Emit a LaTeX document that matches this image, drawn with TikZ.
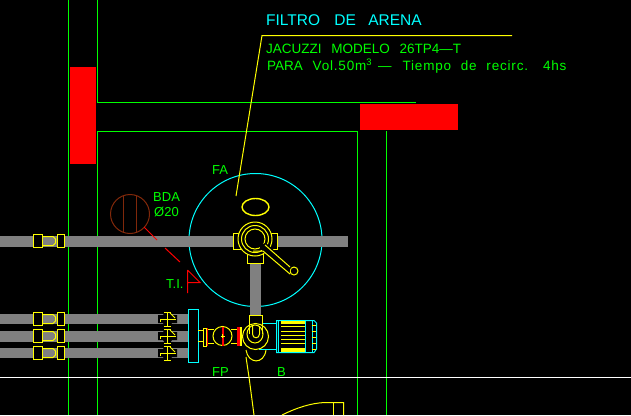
\documentclass[tikz,border=0pt]{standalone}
\usepackage{fontspec}
\setmainfont{Liberation Sans}
\usetikzlibrary{positioning,calc,shapes.geometric}
\definecolor{cadGreen}{RGB}{0,255,0}
\definecolor{cadCyan}{RGB}{0,255,255}
\definecolor{cadYellow}{RGB}{255,255,0}
\definecolor{cadPipe}{RGB}{128,128,128}
\definecolor{cadBrown}{RGB}{128,40,10}
\tikzset{%
  wall/.style     = {draw=cadGreen, line width=1pt},
  pipe/.style     = {draw=none, fill=cadPipe},
  mass/.style     = {draw=none, fill=red},
  part/.style     = {draw=cadYellow, line width=1pt},
  partfill/.style = {draw=cadYellow, line width=1pt, fill=black},
  cyanpart/.style = {draw=cadCyan, line width=1pt},
  ring/.style     = {draw=cadYellow, circle, line width=1pt, inner sep=0pt},
  tag/.style      = {text=cadGreen, font=\fontsize{13}{13}\selectfont, inner sep=0pt, anchor=west}
}
\newcommand{\spaced}[1]{{\addfontfeature{LetterSpace=6}#1}}
% one union on a pipe, centred on its y
\newcommand{\union}[1]{%
  \draw[partfill] (33.5,#1-6.5) rectangle (42.5,#1+6.5);
  \draw[part] (42.5,#1-4.5) -- (53,#1-4.5) -- (55.5,#1-2) -- (55.5,#1+2) -- (53,#1+4.5) -- (42.5,#1+4.5);
  \draw[partfill] (57.5,#1-6.5) rectangle (64.5,#1+6.5);
}
% one small valve on a pipe
\newcommand{\valve}[1]{%
  \fill[black] (158,#1-4) -- (163,#1-4) -- (165,#1-7) -- (170,#1-7) -- (172,#1-4) -- (177,#1-4) -- (177,#1+4) -- (172,#1+4) -- (170,#1+7) -- (165,#1+7) -- (163,#1+4) -- (158,#1+4) -- cycle;
  \draw[part] (160.5,#1+3) -- (160.5,#1) -- (176,#1) (167.5,#1-6.5) -- (167.5,#1+7) (164,#1-6.5) -- (170.5,#1-6.5) (164,#1+7) -- (170.5,#1+7);
  \draw[part] (170,#1-6) -- (175,#1-1);
}
\begin{document}
\begin{tikzpicture}[x=1pt, y=-1pt]
\useasboundingbox[fill=black] (0,0) rectangle (631,415);

% Definition of walls:
\draw[wall] (68.5,0) -- (68.5,415);
\draw[wall] (97.5,0) -- (97.5,102.5) -- (416,102.5);
\draw[wall] (97.5,415) -- (97.5,131.5) -- (357.5,131.5) -- (357.5,415);
\draw[wall] (386.5,131) -- (386.5,415);
\draw[white, line width=1pt] (0,377.5) -- (631,377.5);
\fill[mass] (70,67) rectangle (96,164);
\fill[mass] (360,104) rectangle (458,130);

% Filter:
\node[draw=cadCyan, circle, line width=1pt, minimum size=133pt, inner sep=0pt] (Filter) at (255.5,240) {};

% Pipes:
\fill[pipe] (0,236) rectangle (348,247);
\fill[pipe] (0,314) rectangle (189,324);
\fill[pipe] (0,331) rectangle (189,342);
\fill[pipe] (0,348) rectangle (189,358);
\fill[pipe] (250,260) rectangle (261,316);

% Filter valve:
\node[draw=cadYellow, ellipse, line width=1.4pt, minimum width=27pt, minimum height=17pt, inner sep=0pt] (Lid) at (255.5,207) {};
\draw[partfill] (233.5,233.5) rectangle (277.5,249.5);
\draw[partfill] (247.5,250) rectangle (263.5,263.5);
\node[ring, fill=black, minimum size=34pt] (ValveA) at (255,239) {};
\node[ring, minimum size=27pt] (ValveB) at (255,239) {};
\node[ring, minimum size=20pt] (ValveC) at (255,239) {};
\node[ring, fill=black, minimum size=8pt] (Knob) at (294,271) {};
\fill[black] (258,245) -- (266,243) -- (291,266) -- (289,274) -- (264,253) -- cycle;
\draw[part] (265,245) -- (290,267);
\draw[part] (253,251) -- (263,251) -- (290,274);

% Pump and motor:
\draw[cyanpart] (262,323.5) -- (276,323.5) (259,349.5) -- (276,349.5);
\draw[cyanpart, fill=black] (276.5,320.5) -- (314,320.5) -- (316.5,323) -- (316.5,349) -- (314,352.5) -- (276.5,352.5) -- cycle;
\draw[cyanpart] (278.5,320) -- (278.5,352);
\fill[cadYellow] (281,321) rectangle (305,323.5);
\fill[cadYellow] (281,348) rectangle (305,352);
\foreach \ypos in {326.5,331.5,335.5,339.5,343.5} \draw[part] (281,\ypos) -- (305,\ypos);
\draw[cyanpart] (305.5,320) -- (305.5,352);
\draw[cyanpart] (312.5,320) -- (312.5,352);
\foreach \ypos in {325.5,331.5,337.5,343.5,349.5} \draw[part] (312,\ypos) -- (316,\ypos);
\draw[part] (246,350) .. controls (248,364) and (264,365) .. (266,350);
\node[ring, fill=black, minimum size=26pt] (Pump) at (255.5,336.5) {};
\draw[part] (249.5,334) -- (249.5,315.5) -- (262.5,315.5) -- (262.5,334);
\node[draw=cadYellow, ellipse, line width=1pt, minimum width=16pt, minimum height=18pt, inner sep=0pt] (PumpIn) at (255,334) {};
\draw[part] (252.5,326) -- (252.5,334) .. controls (252.5,339) and (259.5,339) .. (259.5,334) -- (259.5,326);

% Strainer:
\draw[cyanpart, fill=black] (188.5,309.5) rectangle (198.5,362.5);
\draw[part] (198,330.5) -- (204,330.5) (198,341.5) -- (204,341.5);
\draw[partfill] (203.5,328.5) rectangle (206.5,346.5);
\draw[red, line width=1pt] (207.5,328) -- (207.5,346);
\draw[part] (208,329.5) -- (238,329.5) (208,343.5) -- (238,343.5);
\fill[black] (214,328) rectangle (231,344);
\node[ring, minimum size=19pt] (Check) at (222.5,336) {};
\fill[red] (221.5,327) rectangle (224,346);
\draw[cadYellow, line width=0.7pt] (220.5,336) -- (224.5,336) (222.5,334) -- (222.5,338);
\fill[red] (237,327) rectangle (240,346);
\fill[cadYellow] (240,327) rectangle (242,346);

% Unions and valves:
\union{241}
\union{319}
\union{336}
\union{353}
\valve{319}
\valve{336}
\valve{353}

% Marker:
\node[draw=cadBrown, circle, line width=1pt, minimum size=39pt, inner sep=0pt] (Marker) at (130,214) {};
\draw[cadBrown, line width=1pt] (123.5,196) -- (123.5,232) (136.5,196) -- (136.5,232);
\coordinate (MarkerA) at (157,240);
\coordinate (MarkerB) at (165,248);
\coordinate (MarkerC) at (180,262);
\draw[red, line width=1pt] (144,227) -- (MarkerA) (MarkerB) -- (MarkerC);
\draw[red, line width=1pt] (187.5,270) -- (187.5,293) (187.5,282.5) -- (200,282.5) -- (187.5,270);

% Leaders:
\coordinate (LeaderTop) at (262,35.5);
\coordinate (LeaderEnd) at (512,35.5);
\coordinate (LeaderLow) at (236,196);
\draw[part] (LeaderEnd) -- (LeaderTop) -- (LeaderLow);
\coordinate (CurveTop) at (246,357);
\coordinate (CurveLow) at (254,415);
\draw[part] (CurveTop) -- (249,377) -- (CurveLow);
\draw[part] (282,415) .. controls (296,408) and (311,403) .. (325,402.5) -- (343.5,402.5) -- (343.5,415);
\draw[part] (333.5,402) -- (333.5,415);

% Labels:
\node[tag, text=cadCyan, font=\fontsize{15.5}{15.5}\selectfont] (Title) at (266,20) {FILTRO\hspace{10pt} DE\hspace{8pt} ARENA};
\node[tag, font=\fontsize{13.5}{13.5}\selectfont] (Model) at (266,49) {JACUZZI\hspace{6pt} MODELO\hspace{6pt} 26TP4---T};
\node[tag, font=\fontsize{13.5}{13.5}\selectfont] (Para) at (267,66) {PARA\hspace{6pt} \spaced{Vol.50m}\textsuperscript{3}\hspace{6pt}---\hspace{11pt}\spaced{Tiempo}\hspace{6pt} \spaced{de}\hspace{6pt} \spaced{recirc.}\hspace{10pt} \spaced{4hs}};
\node[tag] (FA) at (212,170) {FA};
\node[tag] (BDA) at (153,197) {BDA};
\node[tag] (Dia) at (154,212) {Ø20};
\node[tag] (TI) at (166,284) {T.I.};
\node[tag] (FP) at (212,372) {FP};
\node[tag] (B) at (277,372) {B};
\end{tikzpicture}
\end{document}
